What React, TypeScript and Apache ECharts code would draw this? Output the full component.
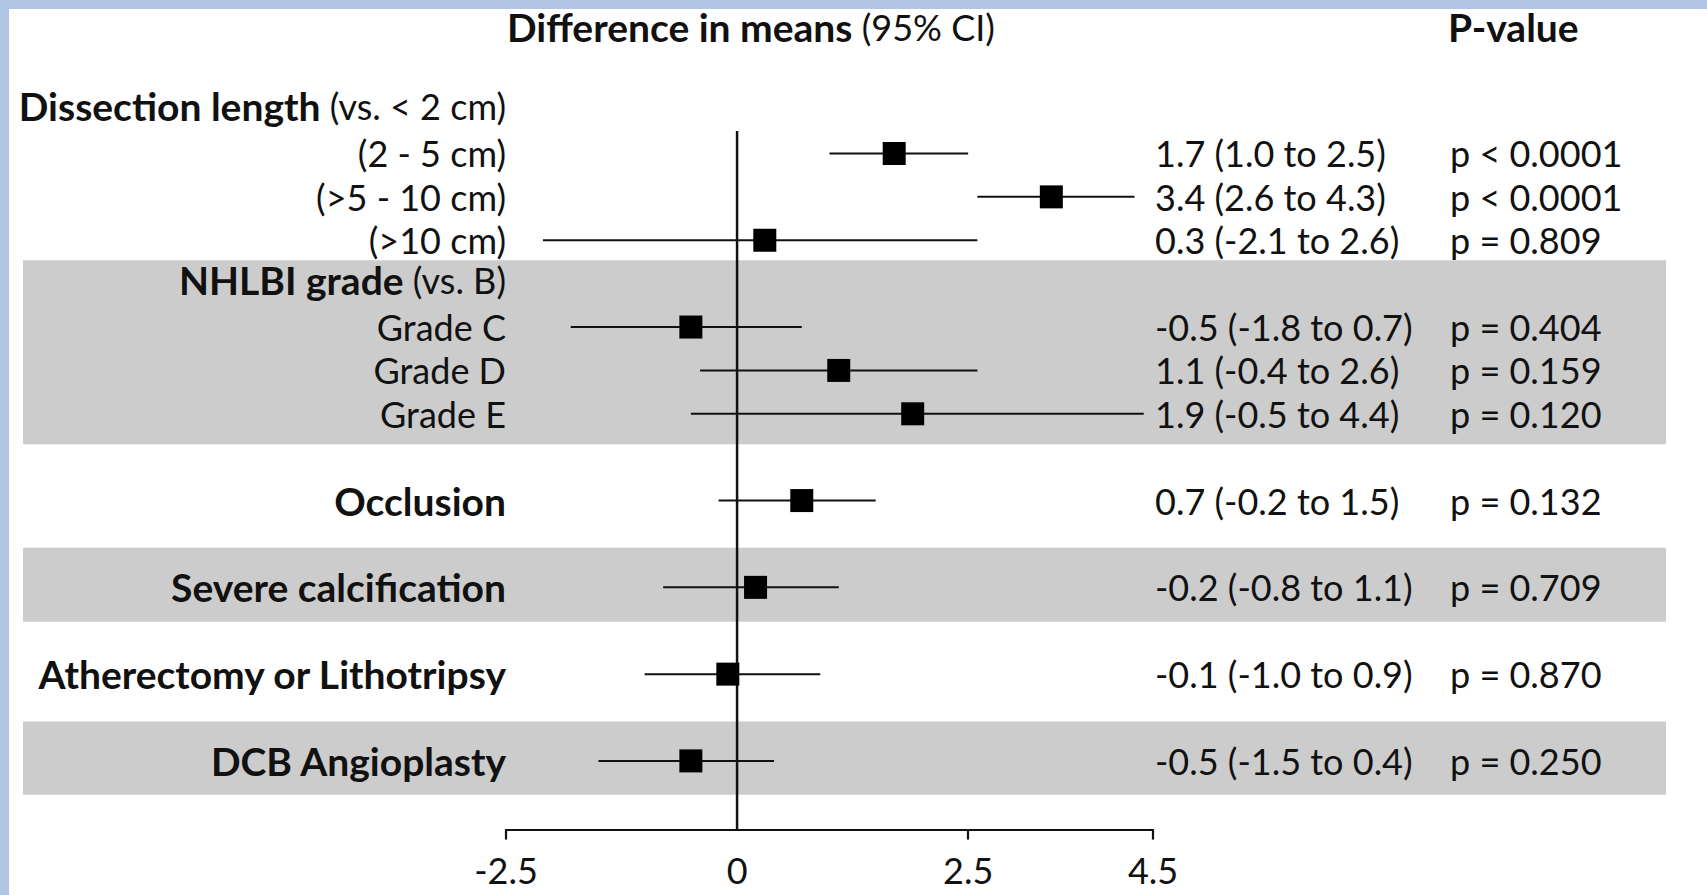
import React, { useEffect, useRef } from "react";
import * as echarts from "echarts";

// ---------- data ----------
const ROW_LABELS = [
  "Dissection length",
  "(2 - 5 cm)",
  "(>5 - 10 cm)",
  "(>10 cm)",
  "NHLBI grade",
  "Grade C",
  "Grade D",
  "Grade E",
  "",
  "Occlusion",
  "",
  "Severe calcification",
  "",
  "Atherectomy or Lithotripsy",
  "",
  "DCB Angioplasty",
];
const ROW_NOTES = [" (vs. < 2 cm)", "", "", "", " (vs. B)", "", "", "", "", "", "", "", "", "", "", ""];
const ROW_BOLD = [true, false, false, false, true, false, false, false, false, true, false, true, false, true, false, true];
const HEADER_ROWS = [0, 4];

const EST_ROWS = [1, 2, 3, 5, 6, 7, 9, 11, 13, 15];
const ESTIMATES = [1.7, 3.4, 0.3, -0.5, 1.1, 1.9, 0.7, 0.2, -0.1, -0.5];
const LOWER = [1.0, 2.6, -2.1, -1.8, -0.4, -0.5, -0.2, -0.8, -1.0, -1.5];
const UPPER = [2.5, 4.3, 2.6, 0.7, 2.6, 4.4, 1.5, 1.1, 0.9, 0.4];
const EST_TEXT = [
  "1.7 (1.0 to 2.5)",
  "3.4 (2.6 to 4.3)",
  "0.3 (-2.1 to 2.6)",
  "-0.5 (-1.8 to 0.7)",
  "1.1 (-0.4 to 2.6)",
  "1.9 (-0.5 to 4.4)",
  "0.7 (-0.2 to 1.5)",
  "-0.2 (-0.8 to 1.1)",
  "-0.1 (-1.0 to 0.9)",
  "-0.5 (-1.5 to 0.4)",
];
const P_TEXT = [
  "p < 0.0001",
  "p < 0.0001",
  "p = 0.809",
  "p = 0.404",
  "p = 0.159",
  "p = 0.120",
  "p = 0.132",
  "p = 0.709",
  "p = 0.870",
  "p = 0.250",
];
const BAND_ROWS = [
  [4, 7],
  [11, 11],
  [15, 15],
];
const X_TICKS = [-2.5, 2.5, 4.5];
const X_LABELS = [-2.5, 0, 2.5, 4.5];

// ---------- style / layout ----------
const FONT = 'Lato, "Noto Sans", sans-serif';
const FS = 36;
const FSB = 39;
const LH = 32;
const INK = "#111";
const BAND_PAD = [
  [0.54, 0.7],
  [0.91, 0.79],
  [0.91, 0.78],
];
const BAND_LEFT = 23;
const BAND_RIGHT = 1666;
const AXIS_OFFSET = 47;

export default function App() {
  const ref = useRef<HTMLDivElement>(null);

  useEffect(() => {
    document.body.style.margin = "0";
    const chart = echarts.init(ref.current!, null, { renderer: "svg" });
    const cats = ROW_LABELS.map((_, i) => "r" + i);

    const txt = (extra: any = {}) => ({ fontFamily: FONT, fontSize: FS, lineHeight: LH, color: INK, ...extra });
    const bold = (extra: any = {}) => txt({ fontSize: FSB, fontWeight: "bold", ...extra });

    const option: any = {
      animation: false,
      backgroundColor: "#b0c4e3",
      graphic: [
        {
          type: "rect",
          z: 0,
          shape: { x: 9, y: 9, width: 1707, height: 895 },
          style: { fill: "#ffffff" },
        },
        {
          type: "text",
          z: 10,
          x: 507,
          y: 27,
          style: {
            text: "{b|Difference in means}{n| (95% CI)}",
            verticalAlign: "middle",
            align: "left",
            rich: {
              b: { fontFamily: FONT, fontSize: FSB, fontWeight: "bold", fill: INK },
              n: { fontFamily: FONT, fontSize: FS, fill: INK },
            },
          },
        },
        {
          type: "text",
          z: 10,
          x: 1448,
          y: 27,
          style: {
            text: "P-value",
            verticalAlign: "middle",
            align: "left",
            fontFamily: FONT,
            fontSize: FSB,
            fontWeight: "bold",
            fill: INK,
          },
        },
      ],
      grid: { left: 506, right: 554, top: 88.4, bottom: 112.4, containLabel: false },
      xAxis: {
        type: "value",
        min: -2.5,
        max: 4.5,
        z: 5,
        offset: AXIS_OFFSET,
        splitLine: { show: false },
        axisLine: { show: true, lineStyle: { color: INK, width: 2.2 } },
        axisTick: { show: true, length: 10, lineStyle: { color: INK, width: 2.2 }, customValues: X_TICKS },
        axisLabel: { ...txt(), margin: 24, customValues: X_LABELS, formatter: (v: number) => String(v) },
      },
      yAxis: [
        {
          type: "category",
          data: cats,
          inverse: true,
          z: 5,
          axisLine: { show: false },
          axisTick: { show: false },
          splitLine: { show: false },
          axisLabel: {
            interval: 0,
            margin: 0,
            formatter: (_v: string, i: number) => {
              const lab = ROW_LABELS[i];
              if (!lab) return "";
              const h = HEADER_ROWS.includes(i) ? "h" : "";
              if (ROW_BOLD[i]) {
                return ROW_NOTES[i] ? `{b${h}|${lab}}{n${h}|${ROW_NOTES[i]}}` : `{b${h}|${lab}}`;
              }
              return `{n|${lab}}`;
            },
            rich: {
              b: bold(),
              n: txt(),
              bh: bold({ padding: [0, 0, 8, 0] }),
              nh: txt({ padding: [0, 0, 8, 0] }),
            },
          },
        },
        {
          type: "category",
          data: cats,
          inverse: true,
          position: "right",
          z: 5,
          axisLine: { show: false },
          axisTick: { show: false },
          splitLine: { show: false },
          axisLabel: {
            interval: 0,
            margin: 2,
            formatter: (_v: string, i: number) => {
              const k = EST_ROWS.indexOf(i);
              if (k < 0) return "";
              return `{e|${EST_TEXT[k]}}{p|${P_TEXT[k]}}`;
            },
            rich: {
              e: txt({ width: 295 }),
              p: txt(),
            },
          },
        },
      ],
      series: [
        {
          type: "custom",
          name: "bands",
          z: 1,
          clip: false,
          silent: true,
          data: BAND_ROWS.map((b, i) => [0, b[0], b[1], i]),
          renderItem: (params: any, api: any) => {
            const bw = api.size([0, 1])[1];
            const i = api.value(3);
            const top = api.coord([0, api.value(1)])[1] - BAND_PAD[i][0] * bw;
            const bot = api.coord([0, api.value(2)])[1] + BAND_PAD[i][1] * bw;
            return {
              type: "rect",
              shape: { x: BAND_LEFT, y: top, width: BAND_RIGHT - BAND_LEFT, height: bot - top },
              style: { fill: "#cccccc" },
            };
          },
        },
        {
          type: "custom",
          name: "zero",
          z: 2,
          clip: false,
          silent: true,
          data: [[0, 1]],
          renderItem: (params: any, api: any) => {
            const bw = api.size([0, 1])[1];
            const c = api.coord([api.value(0), api.value(1)]);
            const cs = params.coordSys;
            return {
              type: "line",
              shape: { x1: c[0], y1: c[1] - 0.52 * bw, x2: c[0], y2: cs.y + cs.height + AXIS_OFFSET },
              style: { stroke: INK, lineWidth: 2.5 },
            };
          },
        },
        {
          type: "custom",
          name: "estimates",
          z: 3,
          clip: false,
          silent: true,
          data: EST_ROWS.map((r, i) => [ESTIMATES[i], r, LOWER[i], UPPER[i]]),
          encode: { x: 0, y: 1 },
          renderItem: (params: any, api: any) => {
            const row = api.value(1);
            const c = api.coord([api.value(0), row]);
            const l = api.coord([api.value(2), row]);
            const h = api.coord([api.value(3), row]);
            const s = 23;
            return {
              type: "group",
              children: [
                {
                  type: "line",
                  shape: { x1: l[0], y1: c[1], x2: h[0], y2: c[1] },
                  style: { stroke: INK, lineWidth: 2 },
                },
                {
                  type: "rect",
                  shape: { x: c[0] - s / 2, y: c[1] - s / 2, width: s, height: s },
                  style: { fill: "#000" },
                },
              ],
            };
          },
        },
      ],
    };

    chart.setOption(option);
    return () => chart.dispose();
  }, []);

  return <div ref={ref} style={{ width: 1707, height: 895 }} />;
}
